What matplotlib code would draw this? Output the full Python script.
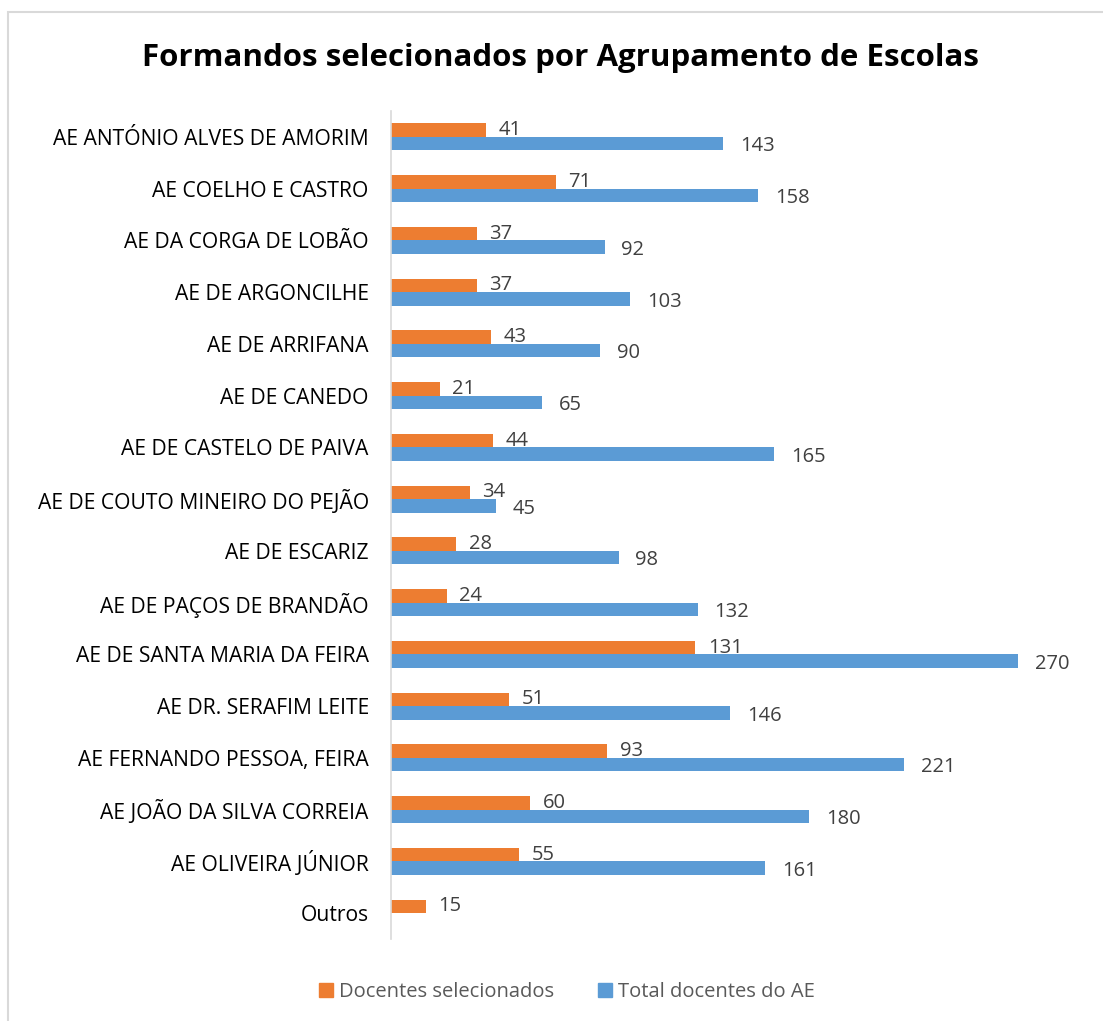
import matplotlib.pyplot as plt
import numpy as np
from matplotlib.patches import Rectangle, Patch

# Data
escolas = ['AE ANTÓNIO ALVES DE AMORIM', 'AE COELHO E CASTRO', 'AE DA CORGA DE LOBÃO',
           'AE DE ARGONCILHE', 'AE DE ARRIFANA', 'AE DE CANEDO', 'AE DE CASTELO DE PAIVA',
           'AE DE COUTO MINEIRO DO PEJÃO', 'AE DE ESCARIZ', 'AE DE PAÇOS DE BRANDÃO',
           'AE DE SANTA MARIA DA FEIRA', 'AE DR. SERAFIM LEITE', 'AE FERNANDO PESSOA, FEIRA',
           'AE JOÃO DA SILVA CORREIA', 'AE OLIVEIRA JÚNIOR', 'Outros']
selecionados = [41, 71, 37, 37, 43, 21, 44, 34, 28, 24, 131, 51, 93, 60, 55, 15]
total = [143, 158, 92, 103, 90, 65, 165, 45, 98, 132, 270, 146, 221, 180, 161, None]

plt.rcParams['font.family'] = ['Open Sans', 'DejaVu Sans']

c_or = '#ED7D31'
c_bl = '#5B9BD5'

fig = plt.figure(figsize=(11.03, 10.21), dpi=100)
fig.patches.append(Rectangle((8 / 1103, -0.01), 1.1, 1 - 12 / 1021 + 0.01,
                             transform=fig.transFigure, fill=False,
                             edgecolor='#d9d9d9', linewidth=1.5))

ax = fig.add_axes([391 / 1103, 1 - 939 / 1021, 697 / 1103, 828 / 1021])
y = np.arange(len(escolas))
h = 0.26

sel_bars = ax.barh(y - h / 2, selecionados, height=h, color=c_or)
tot_vals = [v if v is not None else 0 for v in total]
tot_bars = ax.barh(y + h / 2, tot_vals, height=h, color=c_bl)

for b, v in zip(sel_bars, selecionados):
    ax.annotate(str(v), (b.get_width(), b.get_y() + b.get_height() / 2),
                xytext=(9, 0), textcoords='offset points', va='center', ha='left',
                fontsize=14.5, color='#404040')
for b, v in zip(tot_bars, total):
    if v is None:
        continue
    ax.annotate(str(v), (b.get_width(), b.get_y() + b.get_height() / 2),
                xytext=(12, -2), textcoords='offset points', va='center', ha='left',
                fontsize=14.5, color='#404040')

ax.set_xlim(0, 300)
ax.set_ylim(len(escolas) - 0.5, -0.5)
ax.set_yticks(y)
ax.set_yticklabels(escolas, fontsize=15.2, color='#000000')
ax.tick_params(axis='y', length=0, pad=16)
ax.set_xticks([])
for s in ['top', 'right', 'bottom']:
    ax.spines[s].set_visible(False)
ax.spines['left'].set_color('#d9d9d9')
ax.spines['left'].set_linewidth(1.2)

fig.text(0.508, 1 - 58 / 1021, 'Formandos selecionados por Agrupamento de Escolas',
         ha='center', va='center', fontsize=22.5, fontweight='bold')

handles = [Patch(color=c_or, label='Docentes selecionados'),
           Patch(color=c_bl, label='Total docentes do AE')]
fig.legend(handles=handles, loc='center', bbox_to_anchor=(567 / 1103, 1 - 992 / 1021),
           ncol=2, frameon=False, fontsize=14.5, labelcolor='#595959',
           handlelength=0.7, handleheight=0.7, handletextpad=0.3, columnspacing=2.2)

fig.savefig('out.png', dpi=100)
